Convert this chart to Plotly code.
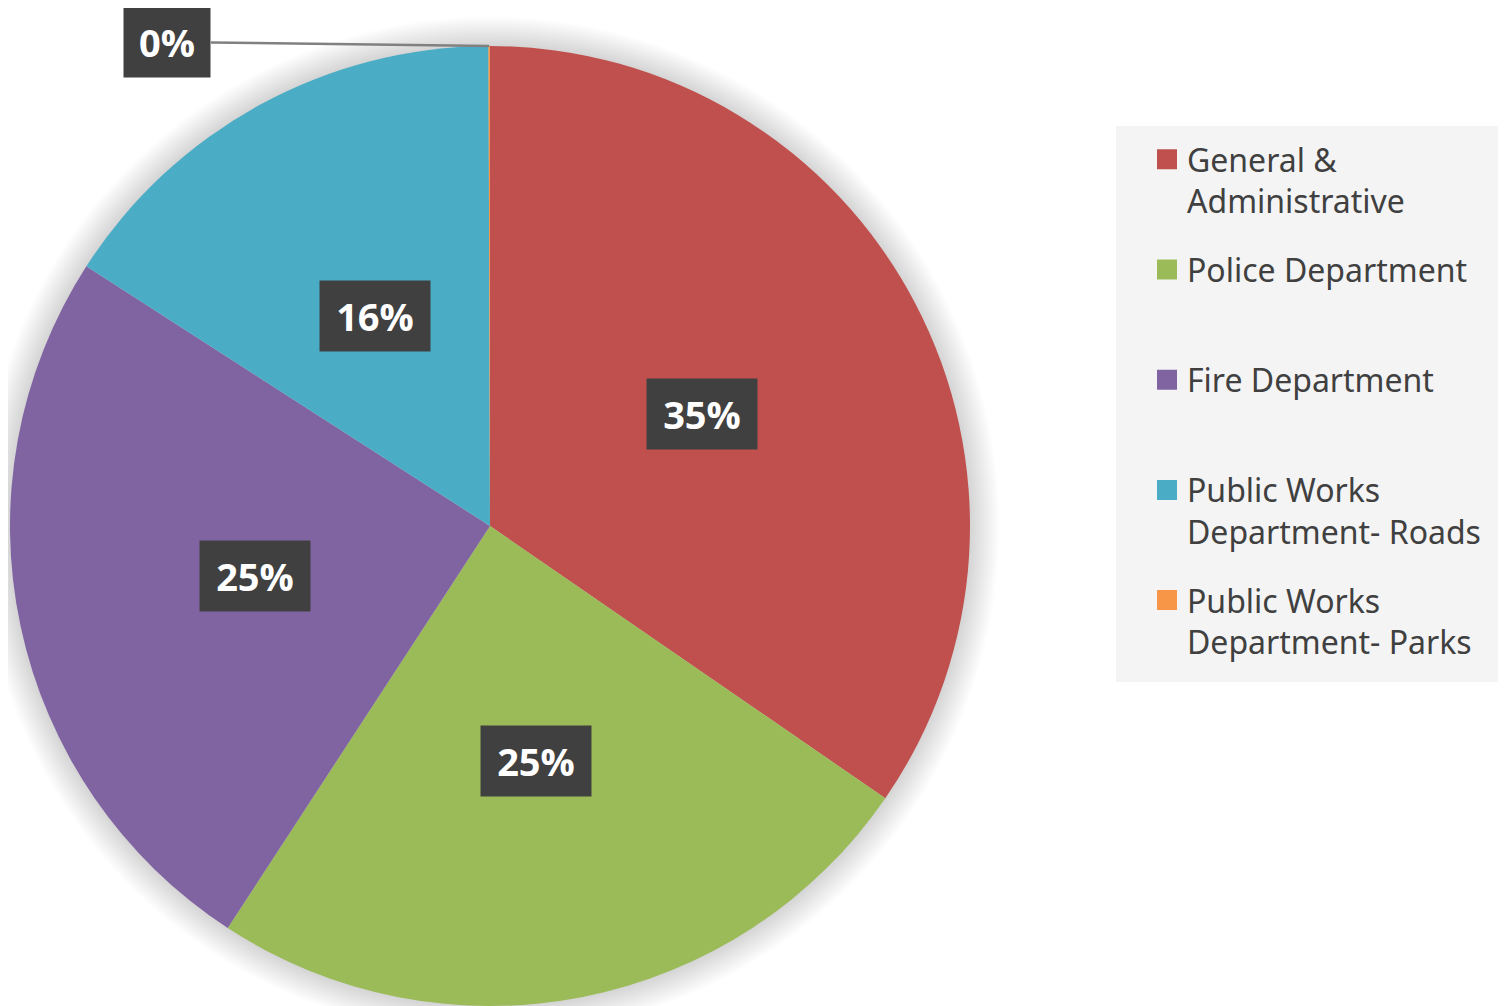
import math
import plotly.graph_objects as go

# ---- data ----
categories = ["General & Administrative", "Police Department", "Fire Department",
              "Public Works Department- Roads", "Public Works Department- Parks"]
legend_labels = ["General &<br>Administrative", "Police Department<br> ", "Fire Department<br> ",
                 "Public Works<br>Department- Roads", "Public Works<br>Department- Parks"]
values = [34.6, 24.6, 24.9, 15.85, 0.05]
colors = ["#C0504D", "#9BBB59", "#8064A2", "#4BACC6", "#F79646"]

W, H = 1506, 1006
OFF = 8  # page body margin
# pie geometry (pixels, in figure coordinates)
CX, CY, R = 490 - OFF, 526 - OFF, 480

fig = go.Figure()
fig.add_trace(go.Pie(
    labels=categories, values=values, sort=False, direction="clockwise", rotation=0,
    marker=dict(colors=colors, line=dict(width=0)),
    textinfo="none", hoverinfo="label+percent", showlegend=False,
    domain=dict(x=[(CX - R) / W, (CX + R) / W], y=[1 - (CY + R) / H, 1 - (CY - R) / H]),
))

# legend entries
for lab, col, cat in zip(legend_labels, colors, categories):
    fig.add_trace(go.Scatter(x=[None], y=[None], mode="markers", name=lab, legendgroup=cat,
                             marker=dict(symbol="square", size=20, color=col,
                                         line=dict(width=4, color=col)), showlegend=True))

# legend background panel
fig.add_shape(type="rect", xref="paper", yref="paper", layer="below",
              x0=(1116 - OFF) / W, x1=1.02, y0=1 - (682 - OFF) / H, y1=1 - (126 - OFF) / H,
              fillcolor="#F4F4F4", line=dict(width=0))

# soft shadow around the pie
for k in range(1, 22):
    rr = R + k * 1.4
    fig.add_shape(type="circle", xref="paper", yref="paper", layer="below",
                  x0=(CX - rr) / W, x1=(CX + rr) / W, y0=1 - (CY + rr) / H, y1=1 - (CY - rr) / H,
                  fillcolor="rgba(0,0,0,0.009)", line=dict(width=0))

# data labels from values
total = sum(values)
cum = 0.0
for v in values:
    frac = v / total
    mid = (cum + frac / 2) * 2 * math.pi
    cum += frac
    txt = f"{round(frac * 100)}%"
    if frac > 0.02:
        px = CX + 0.5 * R * math.sin(mid)
        py = CY - 0.5 * R * math.cos(mid)
        fig.add_annotation(x=px / W, y=1 - py / H, xref="paper", yref="paper", text=txt,
                           xanchor="center", yanchor="middle",
                           showarrow=False, bgcolor="#404040", width=108, height=68,
                           font=dict(family="Open Sans", size=38, color="white", weight="bold"))
    else:
        px = CX + R * math.sin(mid)
        py = CY - R * math.cos(mid)
        fig.add_annotation(x=px / W, y=1 - py / H, xref="paper", yref="paper", text=txt,
                           showarrow=True, arrowhead=0, arrowwidth=2.5, arrowcolor="#808080",
                           ax=-322, ay=-4, bgcolor="#404040", width=84, height=68,
                           font=dict(family="Open Sans", size=38, color="white", weight="bold"))

fig.update_layout(
    width=W, height=H, margin=dict(l=0, r=0, t=0, b=0),
    paper_bgcolor="white", plot_bgcolor="rgba(0,0,0,0)",
    xaxis=dict(visible=False, domain=[0.99, 1.0]), yaxis=dict(visible=False, domain=[0.99, 1.0]),
    legend=dict(x=(1147 - OFF) / W, y=1 - (132 - OFF) / H, xanchor="left", yanchor="top",
                bgcolor="rgba(0,0,0,0)", font=dict(family="Noto Sans", size=32, color="#404040"),
                valign="top", tracegroupgap=24, itemwidth=30, itemsizing="trace"),
)

fig.write_html("out.html")
